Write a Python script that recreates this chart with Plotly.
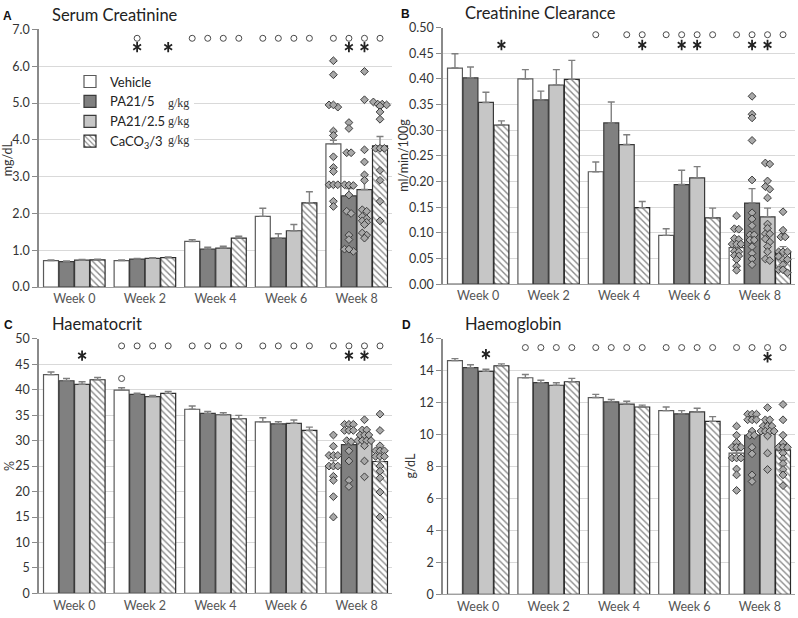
import plotly.graph_objects as go

W, H = 798, 618

weeks = ["Week 0", "Week 2", "Week 4", "Week 6", "Week 8"]
groups = ["Vehicle", "PA21/5", "PA21/2.5", "CaCO<sub>3</sub>/3"]
dose_unit = "g/kg"

# ---------------- A: Serum creatinine (mg/dL) ----------------
scr_mean = [
    [0.72, 0.72, 1.24, 1.92, 3.89],
    [0.69, 0.76, 1.03, 1.33, 2.48],
    [0.73, 0.78, 1.06, 1.53, 2.65],
    [0.74, 0.80, 1.33, 2.29, 3.84],
]
scr_sem = [
    [0.02, 0.02, 0.05, 0.22, 0.10],
    [0.02, 0.02, 0.05, 0.12, 0.20],
    [0.02, 0.02, 0.05, 0.17, 0.28],
    [0.02, 0.02, 0.05, 0.30, 0.25],
]
scr_week8 = [
    [6.15, 5.77, 4.95, 4.89, 4.95, 4.24, 4.12, 3.54, 3.25, 3.14, 2.78, 2.78, 2.78, 2.33, 2.19],
    [4.47, 4.31, 3.65, 3.65, 2.78, 2.77, 2.76, 2.50, 2.06, 2.00, 1.41, 1.29, 1.03, 0.97, 1.03],
    [5.86, 5.09, 3.73, 3.40, 3.05, 2.90, 2.10, 2.06, 1.92, 1.86, 1.80, 1.76, 1.70, 1.47, 1.41, 1.33],
    [5.03, 4.97, 4.97, 4.95, 4.92, 4.76, 4.56, 3.77, 3.77, 3.77, 3.17, 2.90, 2.33, 1.80],
]
scr_circle = [[0, 0, 0, 0], [0, 1, 0, 0], [1, 1, 1, 1], [1, 1, 1, 1], [1, 1, 1, 1]]
scr_star = [[0, 0, 0, 0], [0, 1, 0, 1], [0, 0, 0, 0], [0, 0, 0, 0], [0, 1, 1, 0]]

# ---------------- B: Creatinine clearance (ml/min/100g) ----------------
ccl_mean = [
    [0.421, 0.400, 0.219, 0.095, 0.071],
    [0.402, 0.359, 0.314, 0.194, 0.158],
    [0.354, 0.388, 0.272, 0.207, 0.131],
    [0.310, 0.399, 0.149, 0.129, 0.063],
]
ccl_sem = [
    [0.028, 0.018, 0.019, 0.013, 0.008],
    [0.021, 0.017, 0.041, 0.028, 0.028],
    [0.020, 0.030, 0.019, 0.022, 0.017],
    [0.008, 0.037, 0.012, 0.019, 0.010],
]
ccl_week8 = [
    [0.133, 0.108, 0.107, 0.089, 0.087, 0.078, 0.078, 0.078, 0.064, 0.063, 0.056, 0.055, 0.048, 0.035, 0.027],
    [0.366, 0.331, 0.324, 0.280, 0.203, 0.139, 0.127, 0.114, 0.096, 0.096, 0.086, 0.086, 0.073, 0.060, 0.049, 0.038],
    [0.236, 0.234, 0.201, 0.190, 0.185, 0.168, 0.117, 0.109, 0.098, 0.098, 0.088, 0.082, 0.073, 0.063, 0.049, 0.046],
    [0.141, 0.105, 0.092, 0.092, 0.063, 0.063, 0.063, 0.054, 0.048, 0.048, 0.038, 0.028, 0.028, 0.022],
]
ccl_circle = [[0, 0, 0, 0], [0, 0, 0, 0], [1, 0, 1, 1], [1, 1, 1, 1], [1, 1, 1, 1]]
ccl_star = [[0, 0, 0, 1], [0, 0, 0, 0], [0, 0, 0, 1], [0, 1, 1, 0], [0, 1, 1, 0]]

# ---------------- C: Haematocrit (%) ----------------
hct_mean = [
    [42.97, 39.92, 36.16, 33.7, 25.0],
    [41.76, 39.09, 35.34, 33.3, 29.2],
    [41.06, 38.65, 35.08, 33.4, 29.9],
    [41.95, 39.28, 34.30, 32.0, 25.9],
]
hct_sem = [
    [0.5, 0.45, 0.65, 0.8, 1.1],
    [0.45, 0.2, 0.4, 0.4, 1.0],
    [0.5, 0.2, 0.4, 0.65, 0.7],
    [0.45, 0.4, 0.65, 0.65, 0.9],
]
hct_week8 = [
    [31.1, 28.9, 27.1, 27.1, 27.1, 25.0, 25.0, 25.0, 23.0, 22.2, 19.0, 15.0],
    [33.2, 33.2, 33.2, 32.0, 32.0, 32.0, 30.0, 29.8, 28.0, 26.0, 22.2, 21.0],
    [34.1, 32.1, 32.1, 31.1, 31.1, 31.1, 30.0, 30.0, 30.0, 30.0, 29.0, 26.0, 22.9],
    [35.2, 32.0, 29.0, 28.0, 28.0, 28.0, 26.9, 26.9, 26.9, 25.0, 24.0, 22.7, 19.9, 15.0],
]
hct_circle = [[0, 0, 0, 0], [1, 1, 1, 1], [1, 1, 1, 1], [1, 1, 1, 1], [1, 1, 1, 1]]
hct_star = [[0, 0, 1, 0], [0, 0, 0, 0], [0, 0, 0, 0], [0, 0, 0, 0], [0, 1, 1, 0]]
hct_extra_circle = [(1, 0, 42.2)]  # (week index, group index, value)

# ---------------- D: Haemoglobin (g/dL) ----------------
hgb_mean = [
    [14.63, 13.56, 12.32, 11.50, 8.84],
    [14.19, 13.25, 12.05, 11.30, 9.96],
    [13.96, 13.09, 11.91, 11.42, 10.10],
    [14.31, 13.31, 11.73, 10.83, 9.04],
]
hgb_sem = [
    [0.13, 0.20, 0.20, 0.23, 0.17],
    [0.18, 0.15, 0.15, 0.20, 0.25],
    [0.13, 0.16, 0.18, 0.23, 0.20],
    [0.12, 0.21, 0.12, 0.30, 0.27],
]
hgb_week8 = [
    [10.53, 9.96, 9.51, 9.21, 9.21, 9.21, 8.54, 8.54, 8.54, 7.85, 7.48, 6.51],
    [11.28, 11.28, 11.28, 10.93, 10.93, 10.93, 10.22, 9.96, 9.96, 9.21, 8.80, 7.48, 7.07],
    [11.69, 10.93, 10.93, 10.53, 10.53, 10.53, 10.22, 10.22, 10.22, 10.22, 9.92, 8.84, 7.82],
    [11.89, 10.93, 9.96, 9.47, 9.21, 9.21, 9.21, 8.84, 8.50, 8.19, 7.82, 7.48, 6.81],
]
hgb_circle = [[0, 0, 0, 0], [1, 1, 1, 1], [1, 1, 1, 1], [1, 1, 1, 1], [1, 1, 1, 1]]
hgb_star = [[0, 0, 1, 0], [0, 0, 0, 0], [0, 0, 0, 0], [0, 0, 0, 0], [0, 0, 1, 0]]
hgb_star_levels = [15.04, None, None, None, 14.84]

# ---------------- styling ----------------
FONT = "Lato, 'Open Sans', sans-serif"
fills = ["#ffffff", "#808080", "#c6c6c6", "#ffffff"]
outlines = ["#5a5a5a", "#3a3a3a", "#3a3a3a", "#2a2a2a"]
patterns = ["", "", "", "\\"]
PITCH = 0.22
BARW = 0.212

panels = [
    dict(letter="A", title="Serum Creatinine", ytitle="mg/dL", mean=scr_mean, sem=scr_sem,
         week8=scr_week8, circ=scr_circle, star=scr_star, extra=[], yr=(0, 7), dtick=1,
         fmt=".1f", circ_y=6.76, star_y=[6.52] * 5, px=(39, 392), py=(22, 286), ytx=7, lx=2),
    dict(letter="B", title="Creatinine Clearance", ytitle="ml/min/100g", mean=ccl_mean, sem=ccl_sem,
         week8=ccl_week8, circ=ccl_circle, star=ccl_star, extra=[], yr=(0, 0.5), dtick=0.05,
         fmt=".2f", circ_y=0.486, star_y=[0.466] * 5, px=(443, 795), py=(20, 283), ytx=404, lx=400),
    dict(letter="C", title="Haematocrit", ytitle="%", mean=hct_mean, sem=hct_sem,
         week8=hct_week8, circ=hct_circle, star=hct_star, extra=hct_extra_circle, yr=(0, 50), dtick=5,
         fmt="d", circ_y=48.6, star_y=[46.7] * 5, px=(39, 392), py=(339, 600), ytx=9, lx=3),
    dict(letter="D", title="Haemoglobin", ytitle="g/dL", mean=hgb_mean, sem=hgb_sem,
         week8=hgb_week8, circ=hgb_circle, star=hgb_star, extra=[], yr=(0, 16), dtick=2,
         fmt="d", circ_y=15.45, star_y=hgb_star_levels, px=(443, 795), py=(339, 601), ytx=411, lx=401),
]


def swarm_offsets(vals, ppu_y, ppu_x, row_px=3.6, step_px=4.4):
    order = sorted(range(len(vals)), key=lambda i: -vals[i])
    offs = [0.0] * len(vals)
    clusters, cur = [], []
    for i in order:
        if cur and (vals[cur[0]] - vals[i]) * ppu_y >= row_px:
            clusters.append(cur)
            cur = []
        cur.append(i)
    if cur:
        clusters.append(cur)
    for c in clusters:
        n = len(c)
        for k, i in enumerate(c):
            offs[i] = (k - (n - 1) / 2) * step_px / ppu_x
    return offs


fig = go.Figure()
annotations = []
shapes = []

for p_i, p in enumerate(panels):
    sfx = "" if p_i == 0 else str(p_i + 1)
    xa, ya = "x" + sfx, "y" + sfx
    ppu_x = (p["px"][1] - p["px"][0]) / 5.0
    ppu_y = (p["py"][1] - p["py"][0]) / (p["yr"][1] - p["yr"][0])

    # bars
    for g in range(4):
        xs = [w + (g - 1.5) * PITCH for w in range(5)]
        marker = dict(color=fills[g], line=dict(color=outlines[g], width=1.2))
        if patterns[g]:
            marker["pattern"] = dict(shape=patterns[g], fgcolor="#111111", bgcolor="#ffffff",
                                     size=4.5, solidity=0.3)
        fig.add_trace(go.Bar(
            x=xs, y=p["mean"][g], width=BARW, marker=marker, name=groups[g],
            showlegend=(p_i == 0), legendrank=g,
            error_y=dict(type="data", array=p["sem"][g], arrayminus=[0] * 5, symmetric=False,
                         color="#7f7f7f", thickness=1.4, width=3.5),
            xaxis=xa, yaxis=ya, hoverinfo="skip"))

    # week 8 individual values
    for g in range(4):
        vals = p["week8"][g]
        offs = swarm_offsets(vals, ppu_y, ppu_x)
        xc = 4 + (g - 1.5) * PITCH
        fig.add_trace(go.Scatter(
            x=[xc + o for o in offs], y=vals, mode="markers", showlegend=False,
            marker=dict(symbol="diamond", size=6, color="#a8a8a8", line=dict(color="#3c3c3c", width=1)),
            xaxis=xa, yaxis=ya, hoverinfo="skip"))

    # significance circles
    cx, cy = [], []
    for w in range(5):
        for g in range(4):
            if p["circ"][w][g]:
                cx.append(w + (g - 1.5) * PITCH)
                cy.append(p["circ_y"])
    for (w, g, v) in p["extra"]:
        cx.append(w + (g - 1.5) * PITCH)
        cy.append(v)
    fig.add_trace(go.Scatter(
        x=cx, y=cy, mode="markers", showlegend=False,
        marker=dict(symbol="circle-open", size=6, color="#4a4a4a", line=dict(width=1)),
        xaxis=xa, yaxis=ya, hoverinfo="skip"))

    # asterisks (six-pointed: y-up + y-down)
    sx, sy = [], []
    for w in range(5):
        for g in range(4):
            if p["star"][w][g]:
                sx.append(w + (g - 1.5) * PITCH)
                sy.append(p["star_y"][w])
    fig.add_trace(go.Scatter(
        x=sx + sx, y=sy + sy, mode="markers", showlegend=False,
        marker=dict(symbol=["y-up-open"] * len(sx) + ["y-down-open"] * len(sx), size=6.5,
                    color="#222222", line=dict(width=1.8, color="#222222")),
        xaxis=xa, yaxis=ya, hoverinfo="skip"))

    xdom = [p["px"][0] / W, p["px"][1] / W]
    ydom = [1 - p["py"][1] / H, 1 - p["py"][0] / H]
    fig.update_layout(**{
        "xaxis" + sfx: dict(domain=xdom, anchor=ya, range=[-0.5, 4.5], tickmode="array",
                            tickvals=list(range(5)), ticktext=weeks, showgrid=False, zeroline=False,
                            showline=True, linecolor="#a0a0a0", linewidth=1.2, ticks="",
                            tickfont=dict(family=FONT, size=12.5, color="#555555")),
        "yaxis" + sfx: dict(domain=ydom, anchor=xa, range=list(p["yr"]), dtick=p["dtick"],
                            tickformat=p["fmt"], showgrid=True, gridcolor="#d9d9d9", gridwidth=1,
                            zeroline=False, showline=True, linecolor="#8a8a8a", linewidth=1.5,
                            ticks="outside", ticklen=5, tickcolor="#8a8a8a",
                            tickfont=dict(family=FONT, size=12.5, color="#333333")),
    })

    # titles
    annotations.append(dict(text="<b>" + p["letter"] + "</b>", x=p["lx"] / W,
                            y=1 - (p["py"][0] - 14) / H,
                            xref="paper", yref="paper", xanchor="left", yanchor="middle",
                            showarrow=False, borderpad=0,
                            font=dict(family="Liberation Sans, Arial", size=12, color="#111111")))
    annotations.append(dict(text=p["title"], x=(p["px"][0] + 11 + (9 if p_i % 2 else 0)) / W,
                            y=1 - (p["py"][0] - 15) / H,
                            xref="paper", yref="paper", xanchor="left", yanchor="middle",
                            showarrow=False, font=dict(family=FONT, size=16.5, color="#222222")))
    annotations.append(dict(text=p["ytitle"], x=p["ytx"] / W,
                            y=1 - (p["py"][0] + p["py"][1]) / 2 / H,
                            xref="paper", yref="paper", xanchor="center", yanchor="middle",
                            textangle=-90, showarrow=False,
                            font=dict(family=FONT, size=12.5, color="#333333")))

# legend helper: "g/kg" units aligned with legend rows, white box behind legend
for row, level in zip(range(1, 4), [5.0, 4.5, 4.0]):
    annotations.append(dict(text=dose_unit, x=166 / W, y=level, xref="paper", yref="y",
                            xanchor="left", yanchor="middle", showarrow=False,
                            font=dict(family="Liberation Serif, DejaVu Serif, serif", size=12,
                                      color="#333333")))
shapes.append(dict(type="rect", xref="paper", yref="paper", x0=80 / W, x1=194 / W,
                   y0=1 - 145 / H, y1=1 - 68 / H, fillcolor="#ffffff", line=dict(width=0),
                   layer="above"))

fig.update_layout(
    width=W, height=H, margin=dict(l=0, r=0, t=0, b=0),
    paper_bgcolor="#ffffff", plot_bgcolor="#ffffff",
    barmode="overlay", annotations=annotations, shapes=shapes,
    font=dict(family=FONT, color="#333333"),
    legend=dict(x=70 / W, y=1 - 60 / H, xanchor="left", yanchor="top", bgcolor="rgba(0,0,0,0)",
                font=dict(family=FONT, size=13, color="#222222"), tracegroupgap=0,
                itemwidth=30, traceorder="normal"),
)

fig.write_html("out.html", config={"displayModeBar": False},
               post_script="document.body.style.margin='0';")
